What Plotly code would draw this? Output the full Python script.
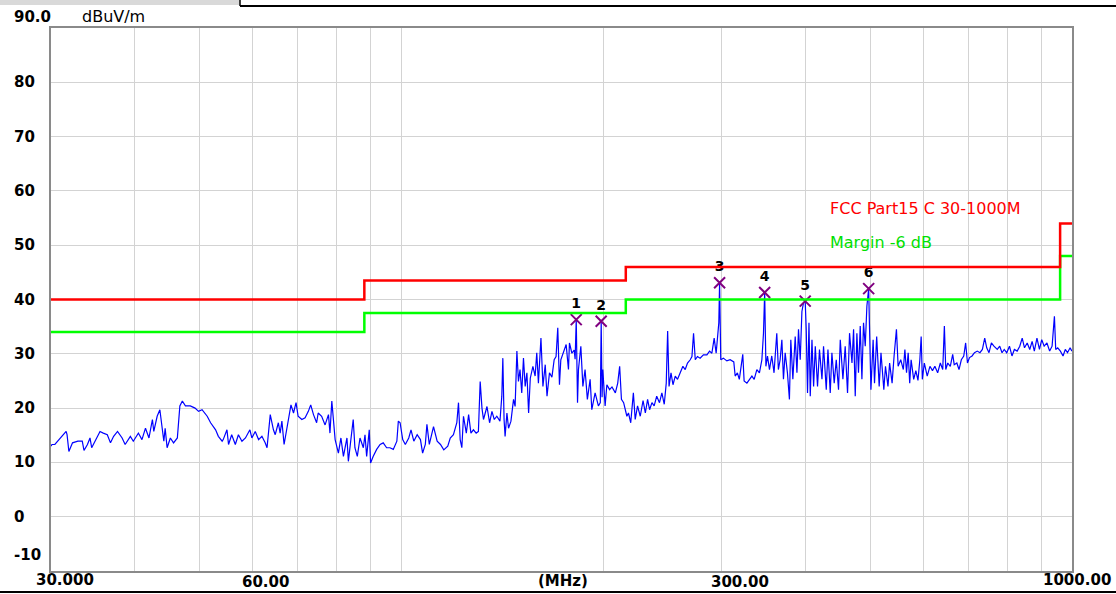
import math
import plotly.graph_objects as go

# ---------------- data ----------------
freq_mhz = [
    30.0, 30.1, 30.4, 31.0, 31.6, 31.7, 31.9, 32.3, 32.9, 33.4, 33.6, 34.0, 34.3, 34.5, 34.9,
    35.5, 35.9, 36.4, 36.8, 37.2, 37.7, 38.3, 38.7, 39.4, 39.8, 40.5, 41.0, 41.5, 42.0, 42.5,
    42.7, 43.2, 43.6, 43.9, 44.2, 44.4, 44.7, 45.2, 45.7, 46.3, 46.7, 47.1, 47.6, 48.4, 49.2,
    49.8, 50.4, 51.3, 51.9, 52.8, 53.3, 54.0, 54.2, 54.9, 55.2, 55.8, 56.5, 57.1, 57.8, 58.5,
    59.4, 59.8, 60.5, 61.2, 61.9, 62.6, 63.0, 63.7, 64.4, 64.8, 65.5, 65.9, 66.3, 66.8, 67.5,
    68.0, 68.4, 69.0, 69.6, 70.1, 71.0, 71.8, 72.6, 73.2, 73.9, 74.7, 75.1, 76.0, 76.9, 77.8,
    78.2, 78.7, 79.1, 79.6, 80.5, 81.2, 81.9, 82.9, 83.3, 84.0, 84.7, 85.2, 85.9, 86.7, 87.7,
    88.2, 88.7, 89.5, 89.9, 90.7, 91.8, 92.9, 93.9, 95.0, 96.1, 97.2, 98.4, 98.9, 99.5, 100.4,
    101.3, 102.5, 103.3, 104.3, 105.5, 106.7, 107.5, 108.5, 109.1, 110.0, 111.0, 111.6, 113.0, 114.3, 115.6,
    117.2, 118.2, 119.5, 120.9, 121.6, 122.3, 123.0, 123.7, 124.9, 125.9, 126.9, 128.0, 129.2, 130.2, 131.0,
    131.8, 132.5, 134.1, 135.3, 136.4, 137.5, 138.7, 140.2, 141.1, 141.6, 142.2, 142.7, 143.6, 144.4, 145.6,
    146.9, 147.7, 148.6, 149.4, 150.2, 151.1, 152.0, 152.9, 153.8, 154.7, 155.6, 157.0, 158.2, 159.1, 160.0,
    161.4, 162.5, 163.8, 164.8, 166.2, 167.6, 168.9, 170.0, 171.0, 172.0, 172.8, 174.4, 176.0, 177.4, 178.0,
    179.5, 180.9, 181.5, 182.2, 183.0, 183.6, 185.1, 186.4, 187.8, 189.3, 191.1, 192.2, 194.4, 196.6, 197.9,
    198.5, 199.1, 199.6, 201.2, 202.4, 204.3, 206.0, 208.4, 210.1, 211.5, 212.8, 214.4, 215.6, 216.8, 218.0,
    219.7, 221.7, 223.1, 224.9, 227.0, 229.2, 231.0, 232.8, 234.4, 236.3, 238.1, 240.2, 242.5, 244.5, 246.5,
    248.2, 249.4, 250.6, 252.3, 254.0, 256.0, 258.0, 260.3, 262.8, 264.9, 267.0, 269.5, 271.1, 272.6, 274.2,
    276.3, 278.8, 282.0, 285.4, 288.0, 290.3, 292.6, 294.6, 297.3, 298.1, 299.3, 302.0, 305.6, 309.1, 313.0,
    314.5, 316.9, 319.0, 322.8, 324.3, 327.4, 330.3, 333.1, 335.7, 338.8, 341.8, 344.7, 346.6, 348.0, 349.5,
    351.4, 353.8, 356.6, 359.4, 362.8, 364.8, 367.0, 369.2, 371.2, 373.4, 376.3, 378.9, 380.7, 383.4, 386.5,
    388.8, 390.9, 393.2, 395.5, 397.7, 400.0, 401.4, 403.2, 405.2, 407.0, 409.4, 411.7, 414.1, 417.3, 420.1,
    423.7, 426.0, 430.0, 432.5, 435.9, 438.4, 441.9, 445.0, 448.5, 451.2, 455.3, 458.9, 462.6, 465.8, 469.7,
    472.3, 475.0, 477.7, 480.3, 483.2, 486.0, 488.7, 491.6, 494.4, 497.4, 498.8, 501.3, 505.1, 507.5, 511.3,
    515.7, 518.9, 524.0, 527.0, 531.5, 534.5, 539.1, 542.8, 547.2, 550.4, 555.3, 560.3, 563.3, 566.5, 569.7,
    572.7, 575.5, 580.6, 584.9, 589.2, 593.0, 595.7, 598.1, 602.2, 608.2, 613.9, 619.3, 624.4, 630.4, 636.2,
    641.5, 645.1, 648.2, 652.7, 658.4, 663.8, 667.3, 673.3, 678.4, 683.8, 689.5, 694.0, 698.4, 703.3, 709.5,
    715.4, 722.3, 728.9, 735.1, 741.0, 746.1, 752.0, 758.2, 764.8, 773.6, 780.2, 786.4, 792.3, 799.2, 806.7,
    813.7, 820.4, 828.3, 835.8, 842.8, 849.5, 857.4, 865.0, 872.0, 878.6, 886.6, 894.2, 901.3, 908.8, 917.6,
    926.1, 933.9, 941.4, 945.6, 952.1, 960.9, 969.7, 977.2, 984.7, 993.5, 1000.0,
]

level_dbuv = [
    13.0, 13.3, 13.3, 14.5, 15.7, 15.1, 12.0, 13.6, 13.9, 13.9, 12.2, 13.3, 14.5, 12.7, 13.9,
    15.7, 15.4, 15.1, 13.6, 14.8, 15.7, 14.5, 13.3, 14.8, 13.9, 15.4, 14.2, 16.3, 14.5, 17.9,
    15.7, 18.5, 19.7, 16.6, 13.9, 16.3, 12.7, 14.5, 13.6, 14.5, 20.4, 21.3, 20.4, 20.4, 20.0,
    19.4, 19.7, 18.5, 17.3, 16.0, 14.8, 13.9, 14.2, 16.0, 13.3, 15.1, 13.3, 15.1, 13.9, 14.5,
    16.0, 14.5, 15.7, 14.2, 14.8, 13.6, 12.7, 18.8, 16.0, 15.1, 17.3, 15.4, 17.6, 13.3, 16.6,
    19.4, 20.6, 19.1, 21.0, 18.5, 17.9, 18.2, 19.4, 20.6, 18.8, 17.3, 19.1, 18.5, 16.9, 18.8,
    15.4, 21.3, 17.9, 14.2, 11.7, 14.5, 11.1, 14.5, 10.2, 13.9, 17.9, 12.7, 11.1, 14.5, 12.7,
    15.1, 11.1, 16.0, 9.9, 11.1, 12.4, 13.3, 13.6, 12.7, 12.7, 12.4, 13.9, 17.6, 17.3, 14.2,
    13.3, 14.5, 16.0, 13.9, 15.1, 14.2, 11.7, 13.3, 17.0, 13.3, 15.1, 16.6, 13.9, 13.3, 12.3,
    13.0, 14.5, 15.1, 17.3, 21.0, 14.2, 12.7, 18.5, 15.4, 18.8, 15.4, 16.0, 15.4, 15.7, 24.9,
    20.0, 17.9, 20.3, 17.3, 19.4, 17.9, 18.5, 17.6, 22.2, 29.2, 17.9, 14.8, 19.1, 16.3, 17.6,
    21.6, 20.3, 30.5, 24.9, 27.1, 22.8, 29.2, 24.0, 26.5, 19.1, 25.5, 27.7, 25.9, 30.2, 24.6,
    32.9, 24.0, 28.0, 22.2, 26.5, 25.7, 28.9, 29.5, 34.8, 24.3, 28.9, 30.2, 31.7, 27.1, 32.0,
    30.1, 30.7, 29.0, 36.3, 21.0, 27.1, 31.4, 24.0, 27.1, 21.6, 25.3, 19.7, 22.8, 20.4, 21.0,
    36.0, 22.0, 27.1, 20.4, 24.3, 23.4, 23.9, 22.8, 24.6, 27.7, 21.6, 21.0, 19.7, 18.5, 19.1,
    17.3, 22.8, 17.9, 20.4, 18.5, 21.4, 19.1, 21.6, 19.7, 21.0, 20.4, 22.2, 21.0, 22.8, 20.7,
    24.6, 34.2, 24.0, 26.5, 24.3, 25.9, 25.3, 26.5, 27.7, 27.1, 28.3, 28.9, 29.5, 33.8, 28.9,
    29.5, 29.2, 29.8, 29.8, 30.5, 30.1, 32.9, 30.1, 35.7, 43.1, 28.9, 29.2, 28.7, 28.9, 28.5,
    25.9, 26.5, 25.3, 29.9, 25.0, 24.6, 25.3, 25.9, 25.3, 27.1, 26.5, 28.9, 33.8, 41.3, 27.7,
    29.6, 27.1, 29.6, 26.5, 33.8, 27.1, 28.9, 32.6, 25.3, 30.2, 26.5, 21.6, 32.6, 25.3, 33.2,
    26.5, 34.5, 28.9, 37.8, 39.4, 39.7, 34.5, 22.8, 35.7, 22.2, 32.6, 24.0, 31.4, 24.0, 30.8,
    25.3, 31.4, 23.4, 30.8, 22.8, 30.2, 24.6, 28.9, 23.4, 32.6, 25.3, 31.4, 22.8, 33.8, 28.3,
    34.5, 22.2, 33.8, 26.5, 35.1, 25.3, 35.7, 31.4, 38.8, 42.0, 35.1, 23.4, 32.6, 24.6, 33.2,
    24.0, 30.2, 23.4, 27.7, 24.0, 28.3, 24.6, 29.6, 34.5, 27.7, 28.9, 27.1, 30.8, 26.5, 30.2,
    24.6, 28.9, 25.3, 26.9, 25.1, 28.9, 33.2, 25.3, 28.3, 25.9, 27.7, 26.9, 27.7, 26.5, 28.3,
    27.1, 35.1, 27.1, 28.3, 27.7, 29.9, 28.0, 28.3, 27.1, 28.9, 29.6, 32.0, 28.3, 29.3, 29.6,
    30.2, 30.5, 30.2, 30.8, 32.9, 31.1, 30.2, 32.0, 31.4, 30.8, 31.4, 30.2, 30.8, 30.2, 31.4,
    29.6, 30.8, 30.5, 31.4, 32.9, 31.1, 32.0, 30.8, 32.3, 30.5, 32.9, 30.8, 32.6, 31.4, 32.0,
    30.5, 31.4, 36.9, 30.8, 31.1, 30.5, 29.6, 30.8, 30.2, 31.1, 30.5,
]

# FCC Part15 C limit (step function) and margin line
limit_freq = [30, 88, 216, 960, 1000]
limit_level = [40.0, 43.5, 46.0, 54.0, 54.0]
margin_level = [34.0, 37.5, 40.0, 48.0, 48.0]

# marked peaks
marker_freq = [182.2, 198.5, 298.1, 348.0, 400.0, 497.4]
marker_level = [36.3, 36.0, 43.1, 41.3, 39.7, 42.0]
marker_label = ["1", "2", "3", "4", "5", "6"]

# axis ticks / labels
x_grid = [40, 50, 60, 70, 80, 90, 100, 200, 300, 400, 500, 600, 700, 800, 900]
y_ticks = [90, 80, 70, 60, 50, 40, 30, 20, 10, 0, -10]
y_tick_text = ["90.0", "80", "70", "60", "50", "40", "30", "20", "10", "0", "-10"]
x_label_vals = [30, 60, 300, 1000]
x_label_text = ["30.000", "60.00", "300.00", "1000.00"]

# ---------------- layout helpers (pixel -> paper) ----------------
W, H = 1116, 594
L, R, T, B = 51, 1072, 28, 571
PW, PH = R - L, B - T


def px(xp):
    return (xp - L) / PW


def py(yp):
    return (B - yp) / PH


FONT = "DejaVu Sans"

fig = go.Figure()

fig.add_trace(go.Scatter(
    x=freq_mhz, y=level_dbuv, mode="lines",
    line=dict(color="#0000ff", width=1.2), hoverinfo="skip"))

fig.add_trace(go.Scatter(
    x=marker_freq, y=marker_level, mode="markers+text",
    text=marker_label, textposition="top center",
    textfont=dict(family=FONT, size=14, color="#000000", weight="bold"),
    marker=dict(symbol="x-thin-open", size=11, color="#800080",
                line=dict(color="#800080", width=2))))

fig.add_trace(go.Scatter(
    x=limit_freq, y=margin_level, mode="lines", line_shape="hv",
    line=dict(color="#00ff00", width=2.5)))
fig.add_trace(go.Scatter(
    x=limit_freq, y=limit_level, mode="lines", line_shape="hv",
    line=dict(color="#ff0000", width=2.5)))

axis_style = dict(showgrid=True, gridcolor="#d3d3d3", gridwidth=1,
                  showline=True, linecolor="#8a8a8a", linewidth=2, mirror=True,
                  ticks="", showticklabels=False, zeroline=False)

fig.update_xaxes(type="log", range=[math.log10(30), math.log10(1000)],
                 tickvals=x_grid, **axis_style)
fig.update_yaxes(range=[-10, 90], tickvals=y_ticks, **axis_style)

ann = []
# y tick labels (left aligned)
for v, t in zip(y_ticks, y_tick_text):
    shift = 0
    if v == 90:
        shift = 11
    elif v == -10:
        shift = 16
    ann.append(dict(x=px(12), xref="paper", y=v, yref="y", text=t,
                    xanchor="left", yanchor="middle", yshift=shift, showarrow=False,
                    font=dict(family=FONT, size=15, color="#000000", weight="bold")))

# unit label
ann.append(dict(x=px(80), xref="paper", y=py(16), yref="paper", text="dBuV/m",
                xanchor="left", yanchor="middle", showarrow=False,
                font=dict(family=FONT, size=16, color="#000000")))

# x labels
x_shifts = [14, 13, 19, 5]
y_shifts = [2, 0, 0, 2]
for v, t, xs, ys in zip(x_label_vals, x_label_text, x_shifts, y_shifts):
    ann.append(dict(x=math.log10(v), xref="x", y=0, yref="paper", text=t,
                    xanchor="center", yanchor="top", xshift=xs, yshift=ys, showarrow=False,
                    font=dict(family=FONT, size=15, color="#000000", weight="bold")))
ann.append(dict(x=px(563), xref="paper", y=0, yref="paper", text="(MHz)",
                xanchor="center", yanchor="top", yshift=1, showarrow=False,
                font=dict(family=FONT, size=15, color="#000000", weight="bold")))

# legend texts
ann.append(dict(x=px(828), xref="paper", y=py(208), yref="paper",
                text="FCC Part15 C 30-1000M", xanchor="left", yanchor="middle",
                showarrow=False, font=dict(family=FONT, size=16, color="#ff0000")))
ann.append(dict(x=px(828), xref="paper", y=py(242), yref="paper",
                text="Margin -6 dB", xanchor="left", yanchor="middle",
                showarrow=False, font=dict(family=FONT, size=16, color="#00e000")))

shapes = [
    dict(type="rect", xref="paper", yref="paper", x0=px(0), x1=px(240), y0=py(0), y1=py(5),
         fillcolor="#d9d9d9", line=dict(width=0), layer="above"),
    dict(type="line", xref="paper", yref="paper", x0=px(240), x1=px(240), y0=py(0), y1=py(6),
         line=dict(color="#000000", width=1.5), layer="above"),
    dict(type="line", xref="paper", yref="paper", x0=px(240), x1=px(W), y0=py(6), y1=py(6),
         line=dict(color="#000000", width=2), layer="above"),
    dict(type="line", xref="paper", yref="paper", x0=px(0), x1=px(W), y0=py(592), y1=py(592),
         line=dict(color="#000000", width=2), layer="above"),
]

fig.update_layout(
    width=W, height=H,
    margin=dict(l=L, r=W - R, t=T, b=H - B, autoexpand=False),
    plot_bgcolor="#ffffff", paper_bgcolor="#ffffff",
    showlegend=False, annotations=ann, shapes=shapes,
)

fig.write_html(
    "out.html",
    config={"displayModeBar": False},
    post_script="document.body.style.margin='0';document.body.style.overflow='hidden';",
)
